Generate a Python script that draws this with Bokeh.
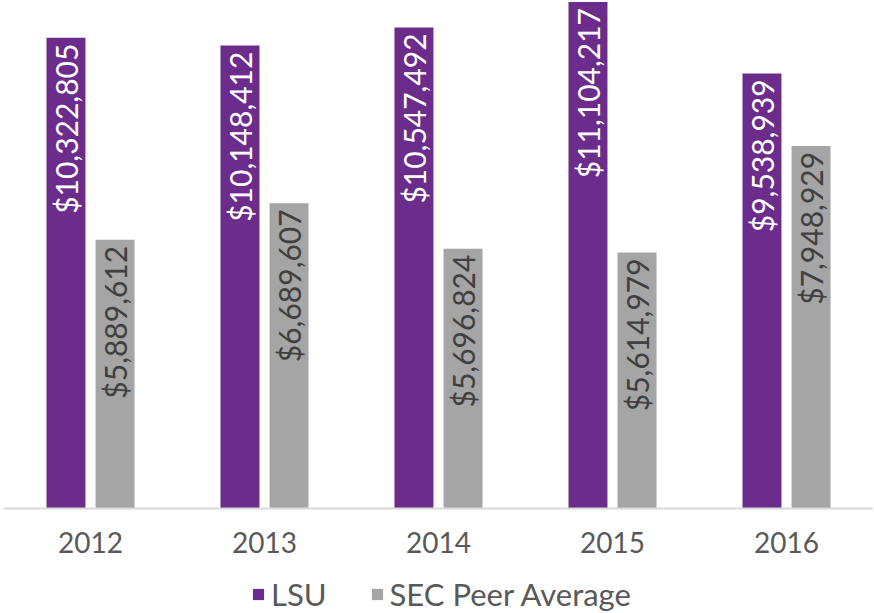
import math
from bokeh.plotting import figure
from bokeh.models import (ColumnDataSource, FactorRange, Range1d, Legend, LegendItem,
                          CategoricalAxis)
from bokeh.transform import dodge
from bokeh.core.properties import value
from bokeh.embed import file_html
from bokeh.resources import INLINE

years = ["2012", "2013", "2014", "2015", "2016"]
lsu = [10322805, 10148412, 10547492, 11104217, 9538939]
sec = [5889612, 6689607, 5696824, 5614979, 7948929]
series_names = ["LSU", "SEC Peer Average"]

PURPLE = "#6B2C8C"
GRAY = "#A5A5A5"
FONT = "Lato"

src = ColumnDataSource(dict(
    year=years,
    lsu=lsu,
    sec=sec,
    lsu_lbl=["${:,}".format(v) for v in lsu],
    sec_lbl=["${:,}".format(v) for v in sec],
))

# y range: value axis top and room below the baseline for labels and legend
Y_TOP = 11137000
Y_BOTTOM = -Y_TOP * 105 / 508

p = figure(x_range=FactorRange(*years, range_padding=0), y_range=Range1d(Y_BOTTOM, Y_TOP),
           frame_width=870, frame_height=613, output_backend="svg", toolbar_location=None,
           x_axis_type=None, y_axis_type=None,
           min_border_left=3, min_border_right=0, min_border_top=0, min_border_bottom=0,
           outline_line_color=None)

off = 0.141
bw = 0.224
r1 = p.vbar(x=dodge("year", -off, range=p.x_range), top="lsu", width=bw, source=src,
            fill_color=PURPLE, line_color=None)
r2 = p.vbar(x=dodge("year", off, range=p.x_range), top="sec", width=bw, source=src,
            fill_color=GRAY, line_color=None)

p.text(x=dodge("year", -off, range=p.x_range), y="lsu", text="lsu_lbl", source=src,
       angle=math.pi / 2, text_align="right", text_baseline="middle", y_offset=6,
       text_color="white", text_font=value(FONT), text_font_size="30px")
p.text(x=dodge("year", off, range=p.x_range), y="sec", text="sec_lbl", source=src,
       angle=math.pi / 2, text_align="right", text_baseline="middle", y_offset=6,
       text_color="#404040", text_font=value(FONT), text_font_size="30px")

p.xgrid.grid_line_color = None
p.ygrid.grid_line_color = None

xa = CategoricalAxis(fixed_location=0)
xa.axis_line_color = "#D9D9D9"
xa.axis_line_width = 2
xa.major_tick_line_color = None
xa.minor_tick_line_color = None
xa.major_label_text_font = FONT
xa.major_label_text_font_size = "28px"
xa.major_label_text_color = "#595959"
xa.major_label_standoff = 17
p.add_layout(xa, "below")

legend = Legend(items=[LegendItem(label=series_names[0], renderers=[r1]),
                       LegendItem(label=series_names[1], renderers=[r2])],
                orientation="horizontal", location=(248, 0),
                label_text_font=FONT, label_text_font_size="31px",
                label_text_color="#595959", glyph_width=14, glyph_height=14,
                label_standoff=6, spacing=43, border_line_color=None,
                background_fill_alpha=0, margin=0, padding=0)
p.add_layout(legend, "center")

open("out.html", "w").write(file_html(p, INLINE))
